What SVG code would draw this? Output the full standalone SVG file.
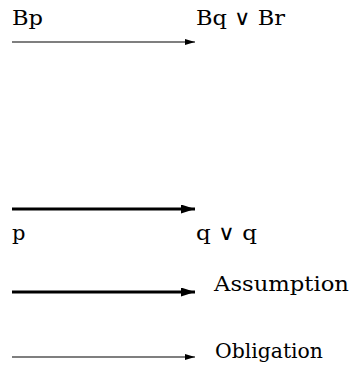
<svg xmlns="http://www.w3.org/2000/svg" width="351" height="369" viewBox="0 0 351 369">
<style>
.t{font-family:'DejaVu Serif','Liberation Serif',serif;font-size:21px;fill:#000}
.thin{stroke:#000;stroke-width:1.2;fill:none}
.thick{stroke:#000;stroke-width:3.2;fill:none}
</style>
<defs>
<marker id="ah" viewBox="0 0 10 6" refX="10" refY="3" markerWidth="10" markerHeight="6" markerUnits="userSpaceOnUse" orient="auto"><path d="M0,0 L10,3 L0,6 Z" fill="#000"/></marker>
<marker id="ahb" viewBox="0 0 14 9" refX="14" refY="4.5" markerWidth="14" markerHeight="9" markerUnits="userSpaceOnUse" orient="auto"><path d="M0,0 L14,4.5 L0,9 Z" fill="#000"/></marker>
</defs>
<g id="connectors">
<line class="thin" x1="12" y1="42" x2="195" y2="42" marker-end="url(#ah)"/>
<line class="thick" x1="12" y1="209" x2="195" y2="209" marker-end="url(#ahb)"/>
<line class="thick" x1="12" y1="292" x2="195" y2="292" marker-end="url(#ahb)"/>
<line class="thin" x1="12" y1="357" x2="195" y2="357" marker-end="url(#ah)"/>
</g>
<g id="n-Bp"><text class="t" x="12" y="24.5" textLength="31" lengthAdjust="spacingAndGlyphs">Bp</text></g>
<g id="n-BqBr"><text class="t" x="196" y="24.5" textLength="89" lengthAdjust="spacingAndGlyphs">Bq <tspan>∨</tspan> Br</text></g>
<g id="n-p"><text class="t" x="12" y="240">p</text></g>
<g id="n-qq"><text class="t" x="196" y="240" textLength="61" lengthAdjust="spacingAndGlyphs">q <tspan>∨</tspan> q</text></g>
<g id="legend-assumption"><text class="t" x="214" y="290.5" textLength="135" lengthAdjust="spacingAndGlyphs">Assumption</text></g>
<g id="legend-obligation"><text class="t" x="215" y="357.5" textLength="108" lengthAdjust="spacingAndGlyphs">Obligation</text></g>
</svg>
